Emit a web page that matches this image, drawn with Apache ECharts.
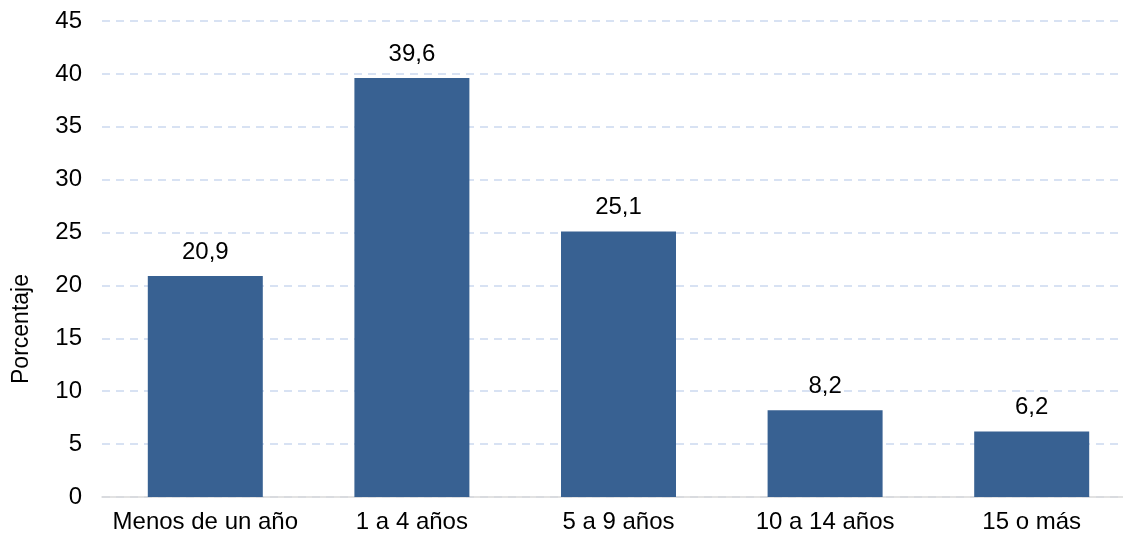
<!DOCTYPE html>
<html><head><meta charset="utf-8">
<script src="https://cdn.jsdelivr.net/npm/echarts@6/dist/echarts.min.js"></script>
<style>html,body{margin:0;padding:0;background:#fff}#c{width:1123px;height:537px}</style>
</head><body><div id="c"></div>
<script>
const categories = ["Menos de un año", "1 a 4 años", "5 a 9 años", "10 a 14 años", "15 o más"];
const values = [20.9, 39.6, 25.1, 8.2, 6.2];
const yTicks = [0, 45, 5];

const chart = echarts.init(document.getElementById('c'));
const font = '"Liberation Sans", Arial, sans-serif';
chart.setOption({
  animation: false,
  grid: { left: 102, right: -12, top: 21, bottom: 40, containLabel: false, outerBoundsMode: 'none' },
  xAxis: {
    type: 'category', data: categories,
    axisLine: { lineStyle: { color: '#d9d9d9', width: 1.5 } },
    axisTick: { show: false },
    axisLabel: { color: '#000', fontFamily: font, fontSize: 24, margin: 13, interval: 0 }
  },
  yAxis: {
    type: 'value', min: yTicks[0], max: yTicks[1], interval: yTicks[2],
    name: 'Porcentaje', nameLocation: 'middle', nameGap: 69, nameRotate: 90,
    nameTextStyle: { color: '#000', fontFamily: font, fontSize: 23, padding: [0, 140, 0, 0] },
    axisLine: { show: false }, axisTick: { show: false },
    axisLabel: { color: '#000', fontFamily: font, fontSize: 24, margin: 20 },
    splitLine: { lineStyle: { color: '#d8e2f3', type: [8, 6], width: 1.8 } }
  },
  series: [{
    type: 'bar', data: values, barWidth: 115,
    itemStyle: { color: '#386192' },
    label: { show: true, position: 'top', distance: 12, color: '#000', fontFamily: font, fontSize: 24,
      formatter: p => p.value.toFixed(1).replace('.', ',') }
  }]
});
</script></body></html>
